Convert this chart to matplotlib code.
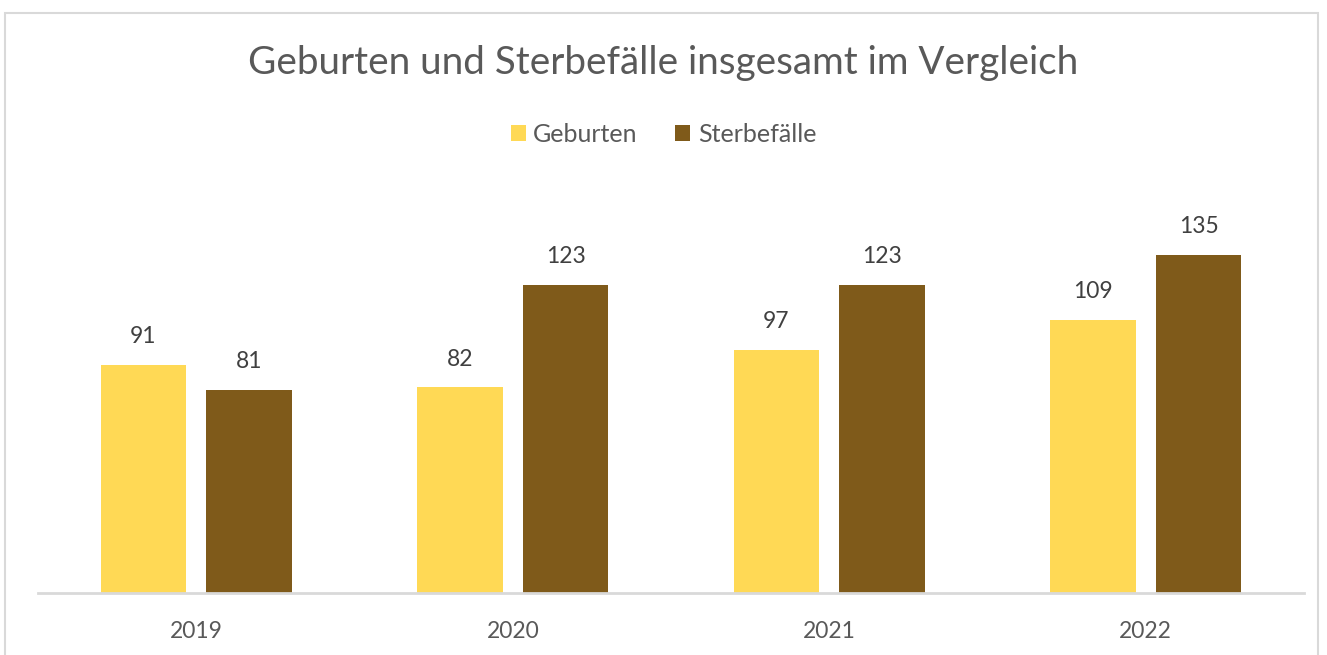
import numpy as np
from matplotlib import pyplot as plt
from matplotlib.patches import Rectangle

years = ['2019', '2020', '2021', '2022']
geburten = [91, 82, 97, 109]
sterbefaelle = [81, 123, 123, 135]

plt.rcParams['font.family'] = ['Lato', 'DejaVu Sans']

fig = plt.figure(figsize=(13.27, 6.55), dpi=100)
ax = fig.add_axes([38 / 1327, 62 / 655, 1266 / 1327, 401 / 655])

# chart frame
fig.patches.append(Rectangle((5 / 1327, -0.1), 1313 / 1327, 1.1 - 13 / 655,
                             transform=fig.transFigure, fill=False,
                             edgecolor='#d9d9d9', linewidth=1.5))

x = np.arange(len(years))
w = 0.27
off = 0.167
b1 = ax.bar(x - off, geburten, w, color='#ffd955', label='Geburten')
b2 = ax.bar(x + off, sterbefaelle, w, color='#7f5a1a', label='Sterbefälle')

for bars, vals in ((b1, geburten), (b2, sterbefaelle)):
    for bar, v in zip(bars, vals):
        ax.text(bar.get_x() + bar.get_width() / 2, v + 7, str(v),
                ha='center', va='bottom', fontsize=16.5, color='#404040')

ax.set_xlim(-0.5, 3.5)
ax.set_ylim(0, 160)
ax.set_xticks(x)
ax.set_xticklabels(years, fontsize=16.5, color='#595959')
ax.tick_params(axis='x', length=0, pad=20)
ax.set_yticks([])
for s in ['top', 'right', 'left']:
    ax.spines[s].set_visible(False)
ax.spines['bottom'].set_color('#d9d9d9')
ax.spines['bottom'].set_linewidth(2)

fig.text(0.5, 1 - 63 / 655, 'Geburten und Sterbefälle insgesamt im Vergleich',
         ha='center', va='center', fontsize=27.8, color='#595959')

fig.legend(loc='center', bbox_to_anchor=(0.5, 1 - 134 / 655), ncol=2,
           frameon=False, fontsize=18, handlelength=0.6, handleheight=0.6,
           handletextpad=0.3, columnspacing=1.5, labelcolor='#595959')

fig.savefig('out.png', dpi=100)
